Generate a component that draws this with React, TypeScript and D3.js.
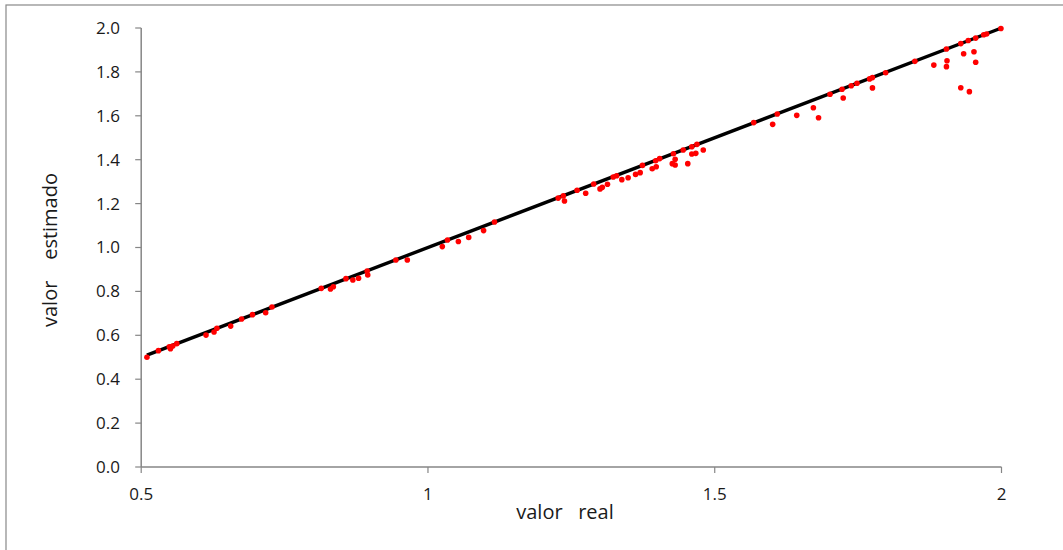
import React from "react";
import * as d3 from "d3";

const realValues = [
  0.51, 0.53, 0.549, 0.551, 0.555, 0.562, 0.613, 0.627, 0.632, 0.656, 0.675, 0.694, 0.717, 0.728,
  0.814, 0.83, 0.835, 0.857, 0.869, 0.879, 0.894, 0.895, 0.944, 0.964,
  1.025, 1.034, 1.053, 1.071, 1.097, 1.116, 1.227, 1.236, 1.238, 1.26, 1.275, 1.289, 1.3, 1.304,
  1.313, 1.323, 1.329, 1.338, 1.349, 1.362, 1.37, 1.374, 1.391, 1.398, 1.397, 1.404, 1.426, 1.431,
  1.428, 1.431, 1.445, 1.453, 1.46, 1.46, 1.467, 1.469, 1.48,
  1.568, 1.601, 1.609, 1.643, 1.672, 1.681, 1.701, 1.722, 1.724, 1.738, 1.748, 1.77, 1.775, 1.775,
  1.798, 1.849, 1.882, 1.904, 1.905, 1.904, 1.929, 1.934, 1.929, 1.944, 1.942, 1.952, 1.955, 1.955,
  1.969, 1.974, 1.999,
];
const estimatedValues = [
  0.5, 0.53, 0.548, 0.539, 0.551, 0.562, 0.601, 0.615, 0.632, 0.642, 0.674, 0.694, 0.703, 0.729,
  0.814, 0.811, 0.821, 0.858, 0.852, 0.86, 0.893, 0.875, 0.943, 0.943,
  1.004, 1.034, 1.027, 1.046, 1.077, 1.116, 1.225, 1.235, 1.212, 1.261, 1.247, 1.289, 1.267, 1.274,
  1.288, 1.321, 1.327, 1.309, 1.318, 1.333, 1.341, 1.374, 1.359, 1.368, 1.395, 1.405, 1.382, 1.402,
  1.427, 1.376, 1.444, 1.382, 1.459, 1.426, 1.429, 1.47, 1.444,
  1.569, 1.561, 1.608, 1.602, 1.637, 1.591, 1.698, 1.721, 1.681, 1.737, 1.748, 1.768, 1.774, 1.727,
  1.796, 1.848, 1.831, 1.904, 1.851, 1.824, 1.929, 1.883, 1.728, 1.71, 1.943, 1.892, 1.844, 1.954,
  1.969, 1.973, 1.998,
];
const lineValues = [0.51, 2.0];
const xTicks = [0.5, 1, 1.5, 2];
const yTicks = [0, 0.2, 0.4, 0.6, 0.8, 1.0, 1.2, 1.4, 1.6, 1.8, 2.0];
const xTitle = "valor   real";
const yTitle = "valor    estimado";

export default function App() {
  const W = 1063;
  const H = 550;
  const x = d3.scaleLinear().domain([0.5, 2]).range([141.2, 1001.5]);
  const y = d3.scaleLinear().domain([0, 2]).range([467, 28]);
  const axisColor = "#868686";
  const font = "'Open Sans', 'Noto Sans', sans-serif";
  const line = d3
    .line<number>()
    .x((d) => x(d))
    .y((d) => y(d));
  const fmtX = (d: number) => (d === 1 || d === 2 ? String(d) : d3.format(".1f")(d));
  return (
    <div style={{ position: "absolute", left: 0, top: 0 }}>
      <svg width={W} height={H} style={{ display: "block" }}>
        <rect x={0} y={0} width={W} height={H} fill="#ffffff" />
        <rect x={6} y={5} width={W + 20} height={H + 20} fill="none" stroke="#898989" strokeWidth={1.2} />
        {/* y axis */}
        <line x1={x(0.5)} x2={x(0.5)} y1={y(2)} y2={y(0)} stroke={axisColor} strokeWidth={1.5} />
        {yTicks.map((t) => (
          <g key={"y" + t}>
            <line x1={x(0.5) - 6} x2={x(0.5)} y1={y(t)} y2={y(t)} stroke={axisColor} strokeWidth={1.2} />
            <text
              x={120}
              y={y(t)}
              dy="0.35em"
              textAnchor="end"
              fontFamily={font}
              fontSize={17}
              fill="#1a1a1a"
            >
              {d3.format(".1f")(t)}
            </text>
          </g>
        ))}
        {/* x axis */}
        <line x1={x(0.5)} x2={x(2)} y1={y(0)} y2={y(0)} stroke={axisColor} strokeWidth={1.5} />
        {xTicks.map((t) => (
          <g key={"x" + t}>
            <line x1={x(t)} x2={x(t)} y1={y(0)} y2={y(0) + 6} stroke={axisColor} strokeWidth={1.2} />
            <text
              x={x(t)}
              y={y(0) + 27}
              dy="0.35em"
              textAnchor="middle"
              fontFamily={font}
              fontSize={17}
              fill="#1a1a1a"
            >
              {fmtX(t)}
            </text>
          </g>
        ))}
        {/* fitted line */}
        <path d={line(lineValues) || ""} stroke="#000000" strokeWidth={3.4} fill="none" />
        {/* points */}
        {realValues.map((v, i) => (
          <circle key={i} cx={x(v)} cy={y(estimatedValues[i])} r={2.8} fill="#ff0000" />
        ))}
        {/* titles */}
        <text
          x={565}
          y={519}
          textAnchor="middle"
          fontFamily={font}
          fontSize={20}
          fill="#1a1a1a"
          style={{ whiteSpace: "pre" }}
        >
          {xTitle}
        </text>
        <text
          transform={`translate(57, 250) rotate(-90)`}
          textAnchor="middle"
          fontFamily={font}
          fontSize={20}
          fill="#1a1a1a"
          style={{ whiteSpace: "pre" }}
        >
          {yTitle}
        </text>
      </svg>
    </div>
  );
}
